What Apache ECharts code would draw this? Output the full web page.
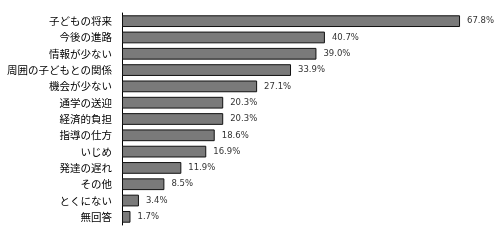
<!DOCTYPE html>
<html><head><meta charset="utf-8">
<script src="https://cdn.jsdelivr.net/npm/echarts@6/dist/echarts.min.js"></script>
<style>html,body{margin:0;padding:0;background:#fff}#c{width:500px;height:240px}</style>
</head><body><div id="c"></div>
<script>
const categories = ['子どもの将来','今後の進路','情報が少ない','周囲の子どもとの関係','機会が少ない','通学の送迎','経済的負担','指導の仕方','いじめ','発達の遅れ','その他','とくにない','無回答'];
const values = [67.8, 40.7, 39.0, 33.9, 27.1, 20.3, 20.3, 18.6, 16.9, 11.9, 8.5, 3.4, 1.7];

const chart = echarts.init(document.getElementById('c'), null, {renderer:'canvas'});
chart.setOption({
  animation:false,
  backgroundColor:'#fff',
  grid:{left:122, right:29, top:13, bottom:15},
  xAxis:{type:'value', min:0, max:70, show:false},
  yAxis:{type:'category', data:categories, inverse:true,
    axisLine:{show:true, lineStyle:{color:'#000', width:1}},
    axisTick:{show:false},
    axisLabel:{color:'#000', fontSize:10.5, margin:10, fontFamily:'Noto Sans CJK JP'}
  },
  series:[{
    type:'bar', data:values, barCategoryGap:'28%',
    itemStyle:{color:'#7a7a7a', borderColor:'#111', borderWidth:1},
    label:{show:true, position:'right', distance:7, color:'#333', fontSize:8.5, fontFamily:'DejaVu Sans',
      formatter:p=>p.value.toFixed(1)+'%'}
  }]
});
</script></body></html>
